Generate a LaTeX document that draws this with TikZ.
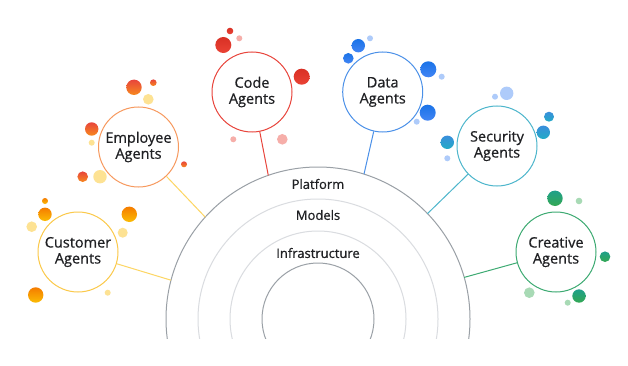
\documentclass[tikz,border=0pt]{standalone}
\usepackage{fontspec}
\setmainfont{Open Sans}[FakeBold=0.7]
\definecolor{txt}{HTML}{202124}
\definecolor{cCust}{HTML}{FBC94A}
\definecolor{cEmp}{HTML}{F7995E}
\definecolor{cCode}{HTML}{E8453C}
\definecolor{cData}{HTML}{4A90E8}
\definecolor{cSec}{HTML}{4DB6CC}
\definecolor{cCre}{HTML}{3DAA72}
\definecolor{lkYel}{HTML}{FDD663}
\definecolor{arcDark}{HTML}{9AA0A6}
\definecolor{arcLight}{HTML}{DADCE0}
\definecolor{lYel}{HTML}{FDE293}
\definecolor{lPink}{HTML}{F6AEA9}
\definecolor{lBlue}{HTML}{AECBFA}
\definecolor{lGreen}{HTML}{A8DAB5}
\definecolor{gOrA}{HTML}{F57C00}
\definecolor{gOrB}{HTML}{FBBC04}
\definecolor{gRdA}{HTML}{E8453C}
\definecolor{gRdB}{HTML}{F7891E}
\definecolor{gCdA}{HTML}{D93025}
\definecolor{gCdB}{HTML}{EA4335}
\definecolor{gBlA}{HTML}{1A73E8}
\definecolor{gBlB}{HTML}{4285F4}
\definecolor{gTlA}{HTML}{3A8EDC}
\definecolor{gTlB}{HTML}{22ABC6}
\definecolor{gGrA}{HTML}{1FA08A}
\definecolor{gGrB}{HTML}{34A853}
\begin{document}
\begin{tikzpicture}[x=1pt,y=-1pt,
  agent/.style={circle, draw=#1, line width=1pt, fill=white, minimum size=80pt, inner sep=0pt, align=center, text=txt, font=\fontsize{14.5}{16}\selectfont},
  link/.style={draw=#1, line width=1pt},
  layer/.style={text=txt, font=\fontsize{13}{16}\selectfont},
  bOrange/.style={top color=gOrA, bottom color=gOrB},
  bRed/.style={top color=gRdA, bottom color=gRdB},
  bCode/.style={top color=gCdA, bottom color=gCdB},
  bBlue/.style={top color=gBlA, bottom color=gBlB},
  bTeal/.style={top color=gTlA, bottom color=gTlB},
  bGreen/.style={top color=gGrA, bottom color=gGrB},
]
\fill[white] (0,0) rectangle (628,366);
\useasboundingbox (0,0) rectangle (628,366);

% layered arcs
\coordinate (ctr) at (318,319);
\begin{scope}
  \clip (0,0) rectangle (628,338);
  \draw[arcDark, line width=1pt] (ctr) circle (152);
  \draw[arcLight, line width=1pt] (ctr) circle (120);
  \draw[arcLight, line width=1pt] (ctr) circle (88);
  \draw[arcDark, line width=1pt] (ctr) circle (56);
\end{scope}
\node[layer] (plat) at (318,184) {Platform};
\node[layer] (mod) at (318,215) {Models};
\node[layer] (infra) at (318,253) {Infrastructure};

% arc attachment points
\coordinate (pCust) at (171.0,280.2);
\coordinate (pEmp) at (205.2,217.1);
\coordinate (pCode) at (268.3,175.4);
\coordinate (pData) at (364.0,174.1);
\coordinate (pSec) at (427.5,213.6);
\coordinate (pCre) at (464.2,277.4);

% agents
\node[agent=cCust] (cust) at (78,252) {Customer\\Agents};
\node[agent=cEmp] (emp) at (138.5,147) {Employee\\Agents};
\node[agent=cCode] (code) at (252,92) {Code\\Agents};
\node[agent=cData] (data) at (382.7,92) {Data\\Agents};
\node[agent=cSec] (sec) at (497,146) {Security\\Agents};
\node[agent=cCre] (cre) at (556,252) {Creative\\Agents};

% connectors
\draw[link=lkYel] (cust) -- (pCust);
\draw[link=lkYel] (emp) -- (pEmp);
\draw[link=cCode] (code) -- (pCode);
\draw[link=cData] (data) -- (pData);
\draw[link=cSec] (sec) -- (pSec);
\draw[link=cCre] (cre) -- (pCre);

% bubbles: customer
\foreach \x/\y/\r in {45/201/3, 45/214.3/6.7, 129.3/214.3/7.7, 35.7/295/7.7}
  \shade[bOrange] (\x,\y) circle (\r);
\foreach \x/\y/\r in {31.7/226.7/5.3, 122.7/232.7/5, 107.7/292.7/3}
  \fill[lYel] (\x,\y) circle (\r);
% employee
\foreach \x/\y/\r in {134/87.3/7.7, 153.3/82.7/3.3, 91.7/129/6.7, 82.7/176.7/5.3, 184/164.3/3}
  \shade[bRed] (\x,\y) circle (\r);
\foreach \x/\y/\r in {148.3/99.3/5.3, 91.7/142.7/3, 100/176.7/6.7}
  \fill[lYel] (\x,\y) circle (\r);
% code
\foreach \x/\y/\r in {230/31/3.3, 223.3/45/8, 301.7/76.7/8}
  \shade[bCode] (\x,\y) circle (\r);
\foreach \x/\y/\r in {239.3/38.3/3, 233.3/139.3/3, 282.3/139.3/5.3}
  \fill[lPink] (\x,\y) circle (\r);
% data
\foreach \x/\y/\r in {358.3/45.7/6.7, 348.3/58.3/5.3, 428.3/69.3/8, 427.7/112.7/8}
  \shade[bBlue] (\x,\y) circle (\r);
\foreach \x/\y/\r in {370/38.3/3, 441.7/76.7/3, 416.7/121.7/3}
  \fill[lBlue] (\x,\y) circle (\r);
% security
\foreach \x/\y/\r in {549/116.7/5, 543.3/132.3/6.7, 447.3/142.3/6.7}
  \shade[bTeal] (\x,\y) circle (\r);
\foreach \x/\y/\r in {506.7/93.3/6.7, 495/96.7/3, 447.3/158.3/3}
  \fill[lBlue] (\x,\y) circle (\r);
% creative
\foreach \x/\y/\r in {555/198.3/7.7, 605/256.7/5.3, 579/296/6.7}
  \shade[bGreen] (\x,\y) circle (\r);
\foreach \x/\y/\r in {579/201/3.3, 529.3/292.7/5.3, 567.7/302.7/3}
  \fill[lGreen] (\x,\y) circle (\r);
\end{tikzpicture}
\end{document}
